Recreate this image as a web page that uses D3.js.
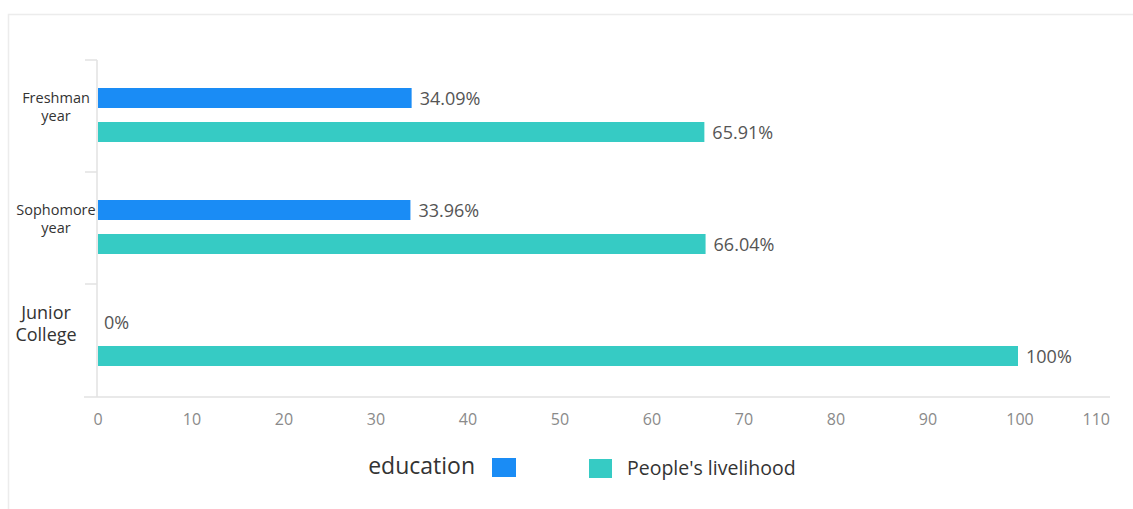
<!DOCTYPE html>
<html><head><meta charset="utf-8">
<script src="https://cdn.jsdelivr.net/npm/d3@7"></script>
<style>body{margin:0;background:#fff;font-family:"Open Sans","Noto Sans",sans-serif;}</style>
</head><body><svg id="c" width="1133" height="509"></svg>
<script>
const categories = ["Freshman year","Sophomore year","Junior College"];
const catLines = [["Freshman","year"],["Sophomore","year"],["Junior","College"]];
const education = [34.09, 33.96, 0];
const livelihood = [65.91, 66.04, 100];
const valueLabels = [["34.09%","33.96%","0%"],["65.91%","66.04%","100%"]];
const ticks = [0,10,20,30,40,50,60,70,80,90,100,110];
const seriesNames = ["education","People's livelihood"];
const colors = ["#1a8cf5","#36cbc4"];

const svg = d3.select("#c");
// card border
svg.append("path").attr("d","M8.5,509 V14.5 H1133").attr("fill","none").attr("stroke","#ececec").attr("stroke-width",1.5);

const x = d3.scaleLinear().domain([0,110]).range([98,1110]);
const y = d3.scaleBand().domain(categories).range([60,396]);
const inner = d3.scaleBand().domain([0,1]).range([0,54]).paddingInner(14/34);
const off = 28;

// x axis line
svg.append("line").attr("x1",84).attr("x2",1110).attr("y1",397).attr("y2",397).attr("stroke","#e2e2e2").attr("stroke-width",1.5);
// y axis line
svg.append("line").attr("x1",97).attr("x2",97).attr("y1",60).attr("y2",397).attr("stroke","#e2e2e2").attr("stroke-width",1.5);
// category ticks
svg.selectAll(".ct").data(categories).enter().append("line")
  .attr("x1",85).attr("x2",97).attr("y1",d=>y(d)).attr("y2",d=>y(d)).attr("stroke","#e2e2e2").attr("stroke-width",1.5);

// x tick labels
svg.selectAll(".xt").data(ticks).enter().append("text")
  .attr("x",(d,i)=> i===ticks.length-1 ? x(d) : x(d)+ (d===0?0:2))
  .attr("y",425).attr("text-anchor",(d,i)=> i===ticks.length-1 ? "end" : "middle")
  .attr("font-size",16).attr("fill","#8a8a8a").text(d=>d);

const series = [education, livelihood];
series.forEach((vals,si)=>{
  svg.selectAll(".b"+si).data(vals).enter().append("rect")
    .attr("x",x(0)).attr("y",(d,i)=>y(categories[i])+off+inner(si))
    .attr("width",d=>x(d)-x(0)).attr("height",inner.bandwidth())
    .attr("fill",colors[si]);
  svg.selectAll(".l"+si).data(vals).enter().append("text")
    .attr("x",d=>x(d)+(d===0?6:8)).attr("y",(d,i)=>y(categories[i])+off+inner(si)+inner.bandwidth()/2+7)
    .attr("font-size",18).attr("fill","#555").text((d,i)=>valueLabels[si][i]);
});

// category labels
catLines.forEach((lines,i)=>{
  const big = i===2;
  const fs = big?18:14.5;
  const base = big ? [319, 341] : [y(categories[i])+43, y(categories[i])+61];
  const cx = big?46:56;
  const t = svg.append("text").attr("text-anchor","middle").attr("font-size",fs).attr("fill","#333");
  lines.forEach((ln,k)=>{
    t.append("tspan").attr("x", cx).attr("y", base[k]).text(ln);
  });
});

// legend
svg.append("text").attr("x",475).attr("y",474).attr("text-anchor","end").attr("font-size",23).attr("fill","#333").text(seriesNames[0]);
svg.append("rect").attr("x",492).attr("y",458).attr("width",24).attr("height",19).attr("fill",colors[0]);
svg.append("rect").attr("x",589).attr("y",459).attr("width",23).attr("height",19).attr("fill",colors[1]);
svg.append("text").attr("x",627).attr("y",475).attr("font-size",19.5).attr("fill","#333").text(seriesNames[1]);
</script></body></html>
